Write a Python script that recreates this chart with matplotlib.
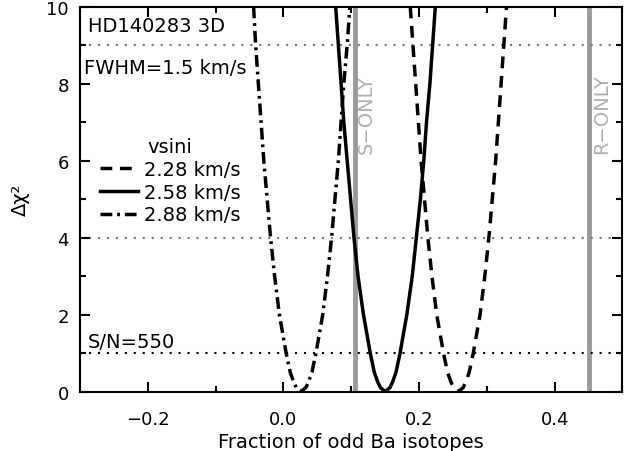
import numpy as np
import matplotlib
matplotlib.use("Agg")
import matplotlib.pyplot as plt

plt.rcParams['font.family'] = ['DejaVu Sans']
plt.rcParams['font.size'] = 14

# delta chi^2 levels at which the curves were read
chi_left = [10, 9, 8, 7, 6, 5, 4, 3, 2, 1.5, 1, 0.5, 0.25, 0.1, 0]
chi_right = [0.1, 0.25, 0.5, 1, 1.5, 2, 3, 4, 5, 6, 7, 8, 9, 10]

# vsini = 2.28 km/s (dashed)
x228_left = [0.187, 0.191, 0.195, 0.199, 0.203, 0.208, 0.213, 0.219, 0.226, 0.231, 0.236, 0.242, 0.247, 0.251, 0.258]
x228_right = [0.265, 0.269, 0.274, 0.280, 0.285, 0.290, 0.297, 0.303, 0.308, 0.313, 0.317, 0.321, 0.325, 0.329]
# vsini = 2.58 km/s (solid)
x258_left = [0.077, 0.081, 0.085, 0.089, 0.094, 0.099, 0.104, 0.110, 0.118, 0.123, 0.128, 0.134, 0.139, 0.143, 0.150]
x258_right = [0.157, 0.161, 0.166, 0.172, 0.177, 0.182, 0.190, 0.196, 0.202, 0.207, 0.211, 0.216, 0.220, 0.224]
# vsini = 2.88 km/s (dash-dot)
x288_left = [-0.044, -0.041, -0.037, -0.033, -0.029, -0.024, -0.019, -0.013, -0.006, -0.001, 0.004, 0.010, 0.015, 0.019, 0.026]
x288_right = [0.033, 0.037, 0.042, 0.048, 0.053, 0.058, 0.065, 0.071, 0.076, 0.081, 0.085, 0.089, 0.094, 0.098]

s_only = 0.106
r_only = 0.451
conf_levels = [1, 4, 9]
conf_colors = ['black', '#777777', '#777777']

fig = plt.figure(figsize=(6.31, 4.52), dpi=100)
ax = fig.add_axes([0.1268, 0.1316, 0.8597, 0.8518])

ax.axvline(s_only, color='#9a9a9a', lw=3.5, zorder=1)
ax.axvline(r_only, color='#9a9a9a', lw=3.5, zorder=1)
for lev, col in zip(conf_levels, conf_colors):
    ax.axhline(lev, color=col, lw=1.5, linestyle=(0, (1, 3.3)), zorder=1)

ax.plot(x228_left + x228_right, chi_left + chi_right, color='black', lw=2.5,
        linestyle=(0, (3.4, 2.2)), label='2.28 km/s')
ax.plot(x258_left + x258_right, chi_left + chi_right, color='black', lw=2.5,
        linestyle='-', label='2.58 km/s')
ax.plot(x288_left + x288_right, chi_left + chi_right, color='black', lw=2.5,
        linestyle=(0, (3.4, 1.4, 0.8, 1.4)), label='2.88 km/s')

ax.set_xlim(-0.3, 0.5)
ax.set_ylim(0, 10)
ax.set_xticks([-0.2, 0.0, 0.2, 0.4])
ax.set_xticklabels(['\u22120.2', '0.0', '0.2', '0.4'])
ax.set_xticks(np.arange(-0.3, 0.51, 0.1), minor=True)
ax.set_yticks([0, 2, 4, 6, 8, 10])
ax.set_yticks(np.arange(0, 11, 1), minor=True)
ax.tick_params(which='both', direction='in', top=True, right=True, width=1.5,
               labelsize=13)
ax.tick_params(which='major', length=7)
ax.tick_params(axis='x', which='major', pad=13)
ax.tick_params(axis='y', which='major', pad=8)
ax.tick_params(which='minor', length=4)
for sp in ax.spines.values():
    sp.set_linewidth(1.5)

ax.set_xlabel('Fraction of odd Ba isotopes', labelpad=3)
ax.set_ylabel('\u0394\u03c7\u00b2', labelpad=12)

ax.text(-0.288, 9.51, 'HD140283 3D', va='center', ha='left')
ax.text(-0.294, 8.41, 'FWHM=1.5 km/s', va='center', ha='left')
ax.text(-0.288, 1.05, 'S/N=550', va='bottom', ha='left')
ax.text(0.122, 7.22, 'S\u2212ONLY', rotation=90, color='#b0b0b0', va='center', ha='center')
ax.text(0.469, 7.22, 'R\u2212ONLY', rotation=90, color='#b0b0b0', va='center', ha='center')

leg = ax.legend(title='vsini', loc='upper left', bbox_to_anchor=(0.012, 0.697),
                frameon=False, handlelength=1.95, handletextpad=0.3,
                labelspacing=0.2, borderpad=0.2)
leg.get_title().set_fontsize(14)

fig.savefig('out.png', dpi=100)
